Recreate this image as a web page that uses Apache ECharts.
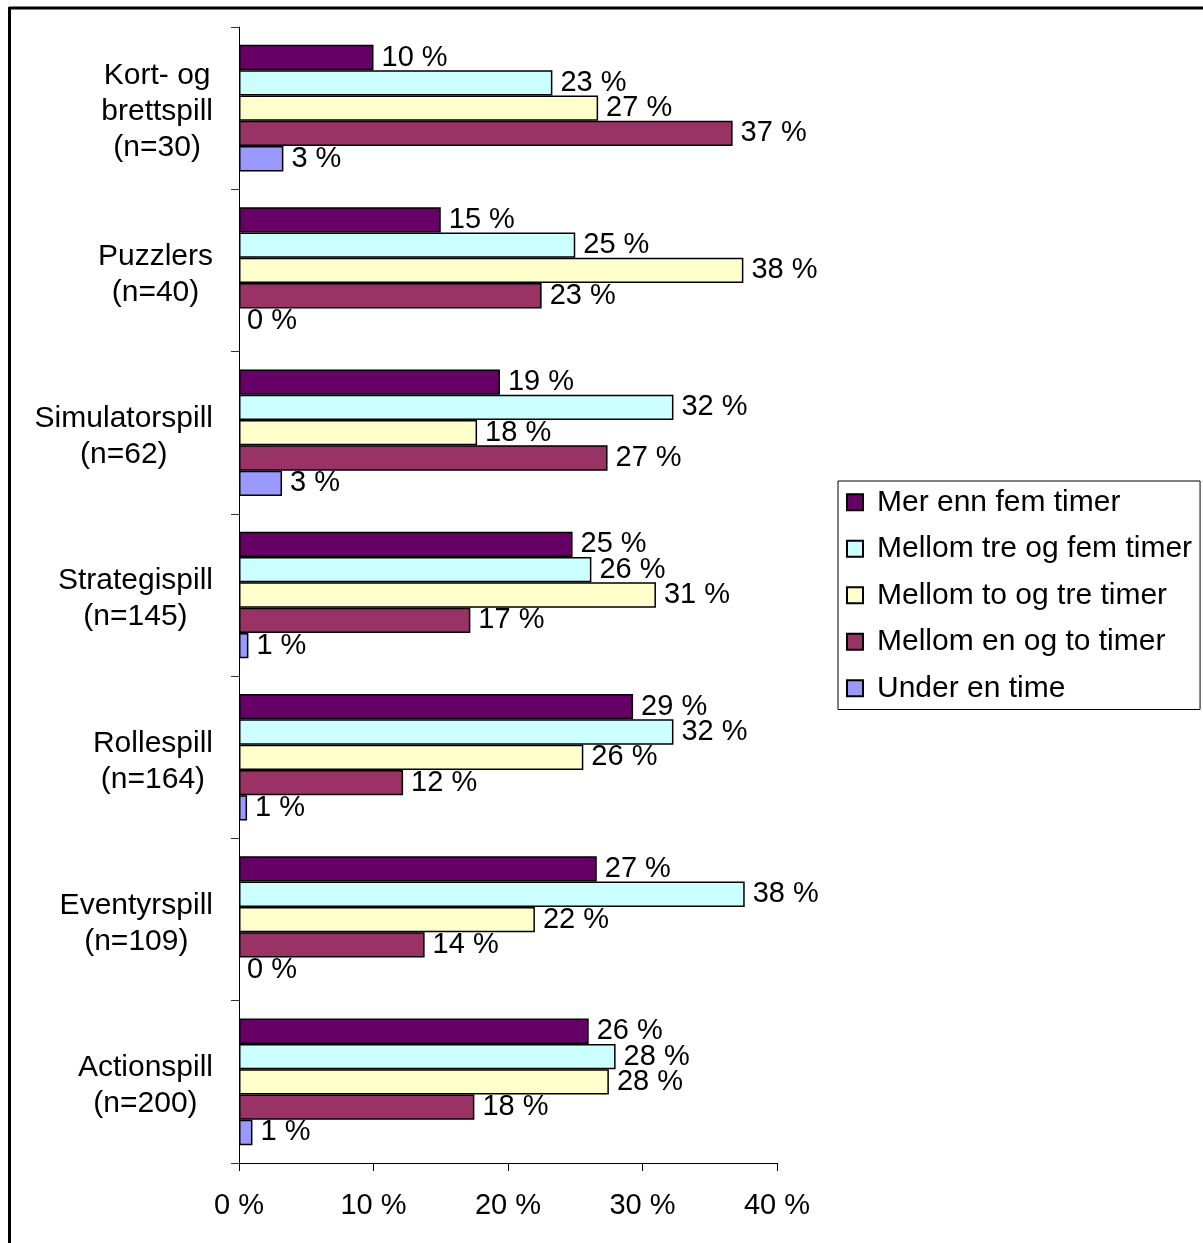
<!DOCTYPE html>
<html>
<head>
<meta charset="utf-8">
<script src="https://cdn.jsdelivr.net/npm/echarts@6/dist/echarts.min.js"></script>
<style>
  html, body { margin: 0; padding: 0; background: #fff; }
  #chart { width: 1203px; height: 1243px; }
</style>
</head>
<body>
<div id="chart"></div>
<script>
// Game genres (top to bottom) with respondent counts
const categories = [
  'Kort- og\nbrettspill\n(n=30)',
  'Puzzlers\n(n=40)',
  'Simulatorspill\n(n=62)',
  'Strategispill\n(n=145)',
  'Rollespill\n(n=164)',
  'Eventyrspill\n(n=109)',
  'Actionspill\n(n=200)'
];

// Share of players per weekly playing time, in percent
const merEnnFem     = [10.0, 15.0, 19.4, 24.8, 29.3, 26.6, 26.0];
const mellomTreFem  = [23.3, 25.0, 32.3, 26.2, 32.3, 37.6, 28.0];
const mellomToTre   = [26.7, 37.5, 17.7, 31.0, 25.6, 22.0, 27.5];
const mellomEnTo    = [36.7, 22.5, 27.4, 17.2, 12.2, 13.8, 17.5];
const underEnTime   = [3.3, 0.0, 3.2, 0.7, 0.6, 0.0, 1.0];

const seriesNames = [
  'Mer enn fem timer',
  'Mellom tre og fem timer',
  'Mellom to og tre timer',
  'Mellom en og to timer',
  'Under en time'
];
const seriesData = [merEnnFem, mellomTreFem, mellomToTre, mellomEnTo, underEnTime];
const seriesColors = ['#660066', '#CCFFFF', '#FFFFCC', '#993366', '#9999FF'];

const xTicks = [0, 10, 20, 30, 40];

const FONT = '"Liberation Sans", Arial, sans-serif';

const chart = echarts.init(document.getElementById('chart'));

const series = seriesNames.map((name, i) => ({
  name: name,
  type: 'bar',
  // zero-length bars get no outline so nothing shows at the axis
  data: seriesData[i].map(v => v === 0
    ? { value: v, itemStyle: { borderWidth: 0 } }
    : v),
  barGap: '0%',
  barCategoryGap: '22%',
  itemStyle: {
    color: seriesColors[i],
    borderColor: '#000',
    borderWidth: 1.5
  },
  label: {
    show: true,
    position: 'right',
    distance: 8,
    color: '#000',
    fontFamily: FONT,
    fontSize: 29,
    padding: [3, 0, 0, 0],
    formatter: p => Math.round(p.value) + ' %'
  },
  emphasis: { disabled: true },
  animation: false
}));

chart.setOption({
  backgroundColor: '#fff',
  animation: false,
  textStyle: { fontFamily: FONT },
  grid: { left: 239, top: 27, right: 426, bottom: 80, containLabel: false },
  legend: {
    data: seriesNames,
    orient: 'vertical',
    left: 838,
    top: 481,
    icon: 'rect',
    itemWidth: 16,
    itemHeight: 16,
    itemGap: 16,
    padding: [6, 8, 6, 8],
    borderColor: '#000',
    borderWidth: 1,
    backgroundColor: '#fff',
    selectedMode: false,
    textStyle: {
      fontFamily: FONT,
      fontSize: 30,
      color: '#000',
      lineHeight: 30.5,
      padding: [0, 0, 0, 9]
    }
  },
  xAxis: {
    type: 'value',
    min: xTicks[0],
    max: xTicks[xTicks.length - 1],
    interval: 10,
    splitLine: { show: false },
    axisLine: { show: true, lineStyle: { color: '#000', width: 1 } },
    axisTick: { show: true, length: 8, lineStyle: { color: '#000' } },
    axisLabel: {
      color: '#000',
      fontFamily: FONT,
      fontSize: 29,
      margin: 28,
      formatter: v => v + ' %'
    }
  },
  yAxis: {
    type: 'category',
    inverse: true,
    data: categories,
    axisLine: { show: true, lineStyle: { color: '#000', width: 1 } },
    axisTick: { show: true, length: 8, alignWithLabel: false, lineStyle: { color: '#333' } },
    axisLabel: {
      color: '#000',
      align: 'right',
      margin: 26,
      padding: [8, 0, 0, 0],
      formatter: v => v.split('\n').map(s => '{c|' + s + '}').join('\n'),
      rich: {
        c: { align: 'center', fontFamily: FONT, fontSize: 30, lineHeight: 36, color: '#000' }
      }
    }
  },
  series: series,
  graphic: [
    {
      type: 'line',
      shape: { x1: 9, y1: 8, x2: 1203, y2: 8 },
      style: { stroke: '#000', lineWidth: 3 },
      silent: true
    },
    {
      type: 'line',
      shape: { x1: 9.5, y1: 7, x2: 9.5, y2: 1243 },
      style: { stroke: '#000', lineWidth: 3 },
      silent: true
    }
  ]
});
</script>
</body>
</html>
